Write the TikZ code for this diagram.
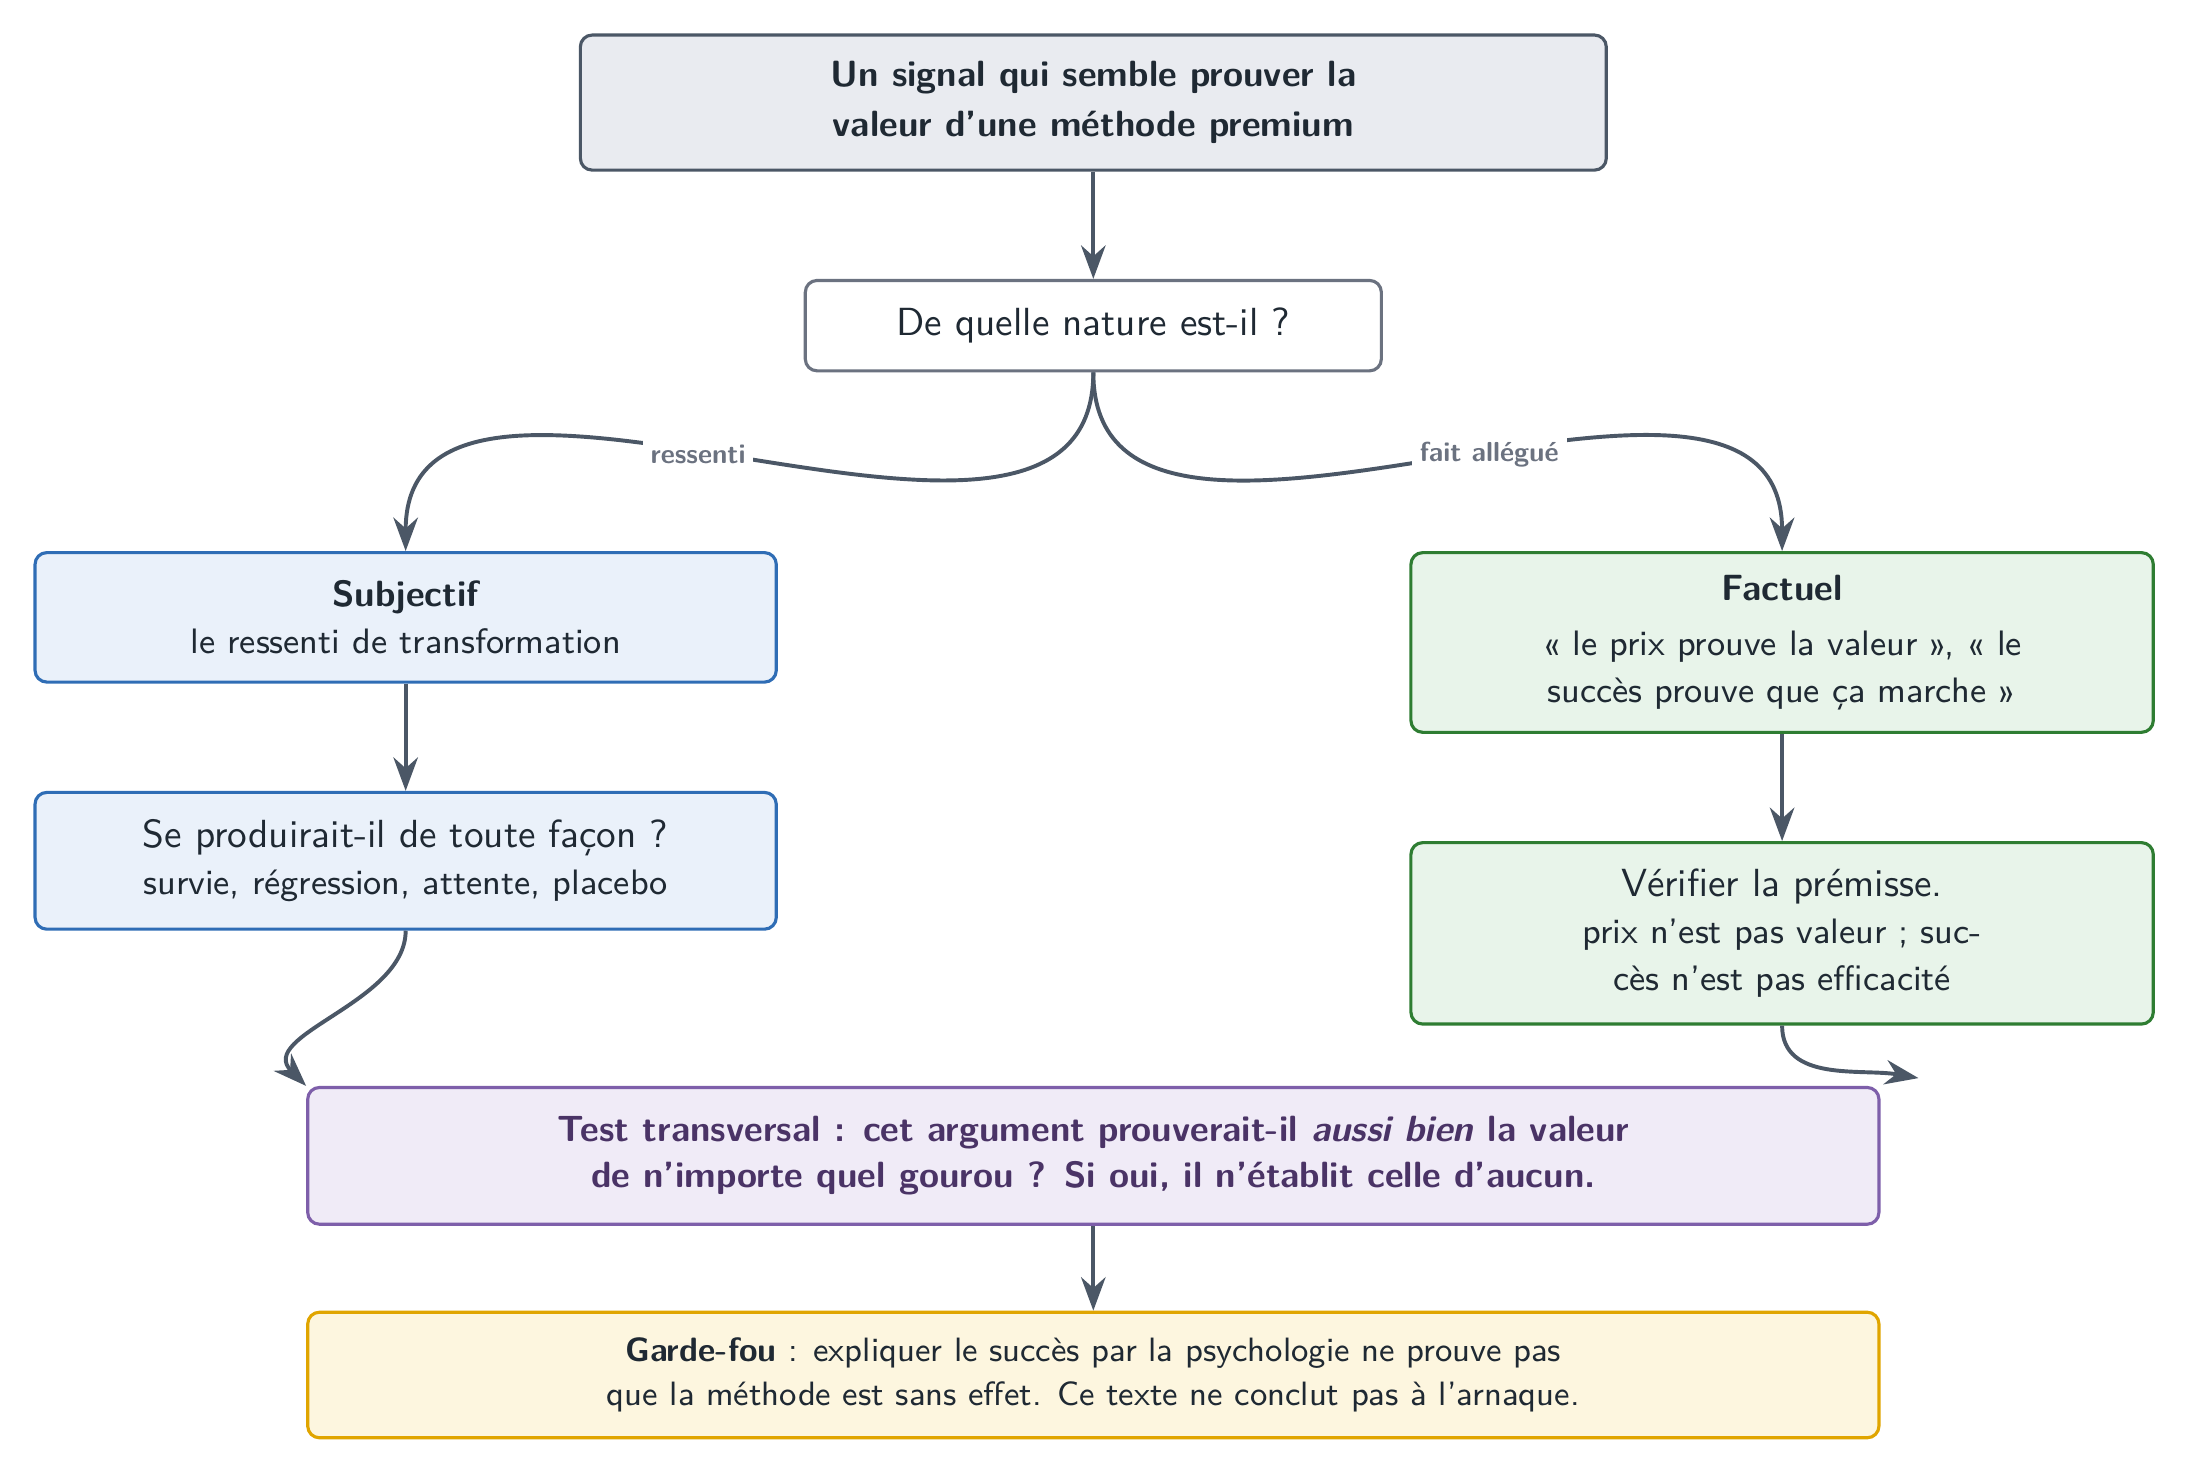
\documentclass[tikz,border=0pt]{standalone}
\usepackage{xcolor}
\usepackage{tikz}
\usetikzlibrary{arrows.meta,positioning}
\renewcommand{\familydefault}{\sfdefault}
\definecolor{gfInk}{HTML}{1F2933}
\definecolor{gfSlate}{HTML}{4B5766}
\definecolor{gfGray}{HTML}{6B7280}
\definecolor{gfGrayBg}{HTML}{E9EBF0}
\definecolor{gfBlue}{HTML}{2F6DB5}
\definecolor{gfLightBlue}{HTML}{EAF1FA}
\definecolor{gfGreen}{HTML}{2E7D32}
\definecolor{gfLightGreen}{HTML}{E8F4EA}
\definecolor{gfPurple}{HTML}{7E5FAA}
\definecolor{gfLightPurple}{HTML}{F0EBF7}
\definecolor{gfDeepPurple}{HTML}{4A3366}
\definecolor{gfYellow}{HTML}{E0A500}
\definecolor{gfLightYellow}{HTML}{FDF6DF}
\newcommand{\headfont}{\fontsize{9.3}{12}\selectfont\bfseries}
\tikzset{
  % Gray signal box
  sigbox/.style={rectangle,rounded corners=3pt,
    minimum width=9.19cm,minimum height=1.21cm,
    align=center,draw=gfSlate,fill=gfGrayBg,line width=0.8pt,
    font=\fontsize{9.3}{12.8}\selectfont\bfseries,text=gfInk},
  % White question box
  qbox/.style={rectangle,rounded corners=3pt,
    minimum width=5.16cm,minimum height=0.81cm,
    align=center,draw=gfGray,fill=white,line width=0.8pt,
    text=gfInk},
  % Subjective branch (blue)
  subbox/.style={rectangle,rounded corners=3pt,
    minimum width=6.64cm,minimum height=1.16cm,
    align=center,draw=gfBlue,fill=gfLightBlue,line width=0.8pt,
    text=gfInk},
  % Factual branch (green)
  facbox/.style={rectangle,rounded corners=3pt,
    minimum width=6.65cm,minimum height=1.61cm,
    align=center,draw=gfGreen,fill=gfLightGreen,line width=0.8pt,
    text=gfInk},
  % Cross test (purple)
  tbox/.style={rectangle,rounded corners=3pt,
    minimum width=14.075cm,minimum height=1.225cm,
    align=center,draw=gfPurple,fill=gfLightPurple,line width=0.8pt,
    font=\fontsize{9.3}{11.7}\selectfont\bfseries,text=gfDeepPurple},
  % Safeguard (yellow)
  gbox/.style={rectangle,rounded corners=3pt,
    minimum width=14.075cm,minimum height=1.125cm,
    align=center,draw=gfYellow,fill=gfLightYellow,line width=0.8pt,
    font=\fontsize{8.6}{11.3}\selectfont,text=gfInk},
  % Arrows
  arr/.style={-{Stealth[length=3mm,width=2.2mm]},line width=1pt,color=gfSlate},
  lbl/.style={font=\scriptsize\bfseries,text=gfGray,fill=white,inner sep=2pt},
}
\begin{document}
\begin{tikzpicture}[node distance=1cm]
  \useasboundingbox (-9.794,0.919) rectangle (9.806,-12.294);

  \node[sigbox] (top) at (0,0)
    {Un signal qui semble prouver la\\valeur d’une méthode premium};

  \node[qbox,below=0.96cm of top] (nature)
    {De quelle nature est-il ?};

  \node[subbox,below=1.6cm of nature,xshift=-6.16cm] (subj)
    {{\headfont Subjectif}\\
     \small le ressenti de transformation};

  \node[subbox,below=0.96cm of subj,minimum height=1.225cm] (subj2)
    {Se produirait-il de toute façon ?\\
     \small survie, régression, attente, placebo};

  \node[facbox,below=1.6cm of nature,xshift=6.17cm] (fact)
    {{\headfont Factuel}\\[2pt]
     \small « le prix prouve la valeur », « le\\
     \small succès prouve que ça marche »};

  \node[facbox,below=0.96cm of fact,minimum height=1.625cm] (fact2)
    {Vérifier la prémisse.\\
     \small prix n’est pas valeur ; suc-\\
     \small cès n’est pas efficacité};

  \node[tbox,below=1.39cm of subj2,xshift=6.16cm] (test)
    {Test transversal : cet argument prouverait-il \textit{aussi bien} la valeur\\
     de n’importe quel gourou ? Si oui, il n’établit celle d’aucun.};

  \node[gbox,below=0.76cm of test] (garde)
    {\textbf{Garde-fou} : expliquer le succès par la psychologie ne prouve pas\\
     que la méthode est sans effet. Ce texte ne conclut pas à l’arnaque.};

  \draw[arr] (top) -- (nature);
  \draw[arr] (nature.south) to[out=-90,in=90]
    node[lbl,pos=0.55] {ressenti} (subj.north);
  \draw[arr] (nature.south) to[out=-90,in=90]
    node[lbl,pos=0.55] {fait allégué} (fact.north);
  \draw[arr] (subj) -- (subj2);
  \draw[arr] (fact) -- (fact2);
  \draw[arr] (subj2.south) to[out=-90,in=135] (test.north west);
  \draw[arr] (fact2.south) to[out=-90,in=170]
    ([xshift=0.34cm,yshift=0.07cm]test.north east);
  \draw[arr] (test) -- (garde);
\end{tikzpicture}
\end{document}
